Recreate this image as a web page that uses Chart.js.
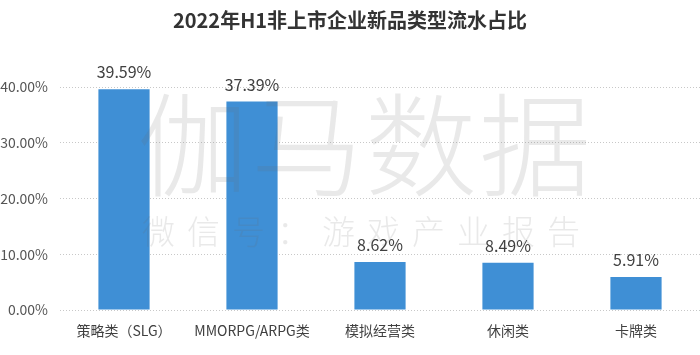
<!DOCTYPE html>
<html>
<head>
<meta charset="utf-8">
<script src="https://cdn.jsdelivr.net/npm/chart.js@4"></script>
<style>
  html, body { margin: 0; padding: 0; background: #ffffff; }
  #wrap { width: 700px; height: 355px; position: relative; }
</style>
</head>
<body>
<div id="wrap"><canvas id="c"></canvas></div>
<script>
const titleText = "2022年H1非上市企业新品类型流水占比";
const categories = ["策略类（SLG）", "MMORPG/ARPG类", "模拟经营类", "休闲类", "卡牌类"];
const shareValues = [39.59, 37.39, 8.62, 8.49, 5.91];
const yTicks = [0, 10, 20, 30, 40];
const watermarkMain = "伽马数据";
const watermarkSub = "微信号：游戏产业报告";

const CJK = '"Noto Sans CJK SC", "Noto Sans", sans-serif';

const valueLabels = {
  id: 'valueLabels',
  afterDatasetsDraw(chart) {
    const ctx = chart.ctx;
    const meta = chart.getDatasetMeta(0);
    ctx.save();
    ctx.font = '16px ' + CJK;
    ctx.fillStyle = '#404040';
    ctx.textAlign = 'center';
    ctx.textBaseline = 'bottom';
    meta.data.forEach((bar, i) => {
      ctx.fillText(shareValues[i].toFixed(2) + '%', bar.x, bar.y - 9);
    });
    ctx.restore();
  }
};

const watermark = {
  id: 'watermark',
  afterDraw(chart) {
    const ctx = chart.ctx;
    ctx.save();
    ctx.fillStyle = 'rgba(110,110,110,0.15)';
    ctx.textAlign = 'center';
    ctx.textBaseline = 'middle';
    ctx.font = '300 112px ' + CJK;
    ctx.letterSpacing = '2px';
    ctx.fillText(watermarkMain, 365, 145);
    ctx.font = '300 33px ' + CJK;
    ctx.letterSpacing = '12px';
    ctx.fillText(watermarkSub, 367, 231);
    ctx.restore();
  }
};

new Chart(document.getElementById('c'), {
  type: 'bar',
  data: {
    labels: categories,
    datasets: [{
      data: shareValues,
      backgroundColor: '#3f8fd5',
      borderWidth: 0,
      barPercentage: 0.4,
      categoryPercentage: 1.0
    }]
  },
  options: {
    responsive: true,
    maintainAspectRatio: false,
    animation: false,
    layout: { padding: { left: 0, right: 0, top: 0, bottom: 0 } },
    plugins: {
      legend: { display: false },
      tooltip: { enabled: false },
      title: {
        display: true,
        text: titleText,
        color: '#333333',
        font: { family: CJK, size: 20, weight: 'bold', lineHeight: 1.2 },
        padding: { top: 8, bottom: 55 }
      }
    },
    scales: {
      x: {
        grid: { display: false, drawTicks: false },
        border: { display: false },
        ticks: {
          color: '#404040',
          font: { family: CJK, size: 14 },
          padding: 12,
          maxRotation: 0,
          autoSkip: false
        },
        afterFit(scale) { scale.height = 45; }
      },
      y: {
        min: 0,
        max: 40,
        afterBuildTicks(scale) { scale.ticks = yTicks.map(v => ({ value: v })); },
        grid: {
          color: '#c8c8c8',
          lineWidth: 1,
          drawTicks: false
        },
        border: { display: false, dash: [1, 2] },
        ticks: {
          color: '#555555',
          font: { family: CJK, size: 14 },
          padding: 12,
          callback: v => v.toFixed(2) + '%'
        },
        afterFit(scale) { scale.width = 60; }
      }
    }
  },
  plugins: [valueLabels, watermark]
});
</script>
</body>
</html>
